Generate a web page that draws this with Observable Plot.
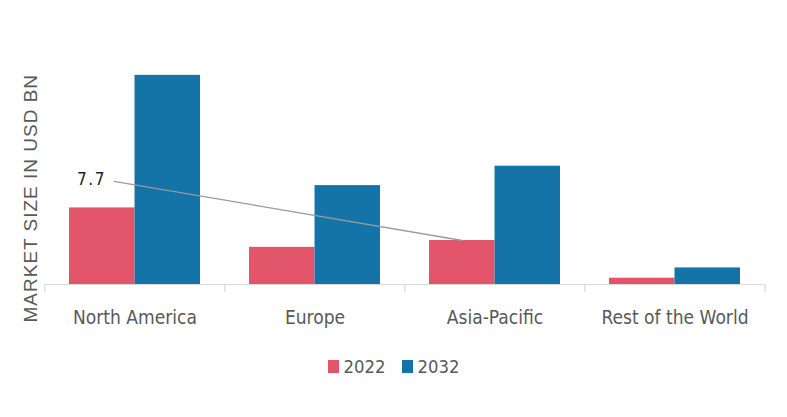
<!DOCTYPE html>
<html>
<head>
<meta charset="utf-8">
<script src="https://cdn.jsdelivr.net/npm/d3@7"></script>
<script src="https://cdn.jsdelivr.net/npm/@observablehq/plot@0.6"></script>
<style>
  html, body { margin: 0; padding: 0; background: #fff; }
  #chart { width: 787px; }
  .legend { display: flex; justify-content: center; align-items: center; margin-top: 16px; color: #595959; }
  .legend .item { display: flex; align-items: center; margin: 0 8px; }
  .legend .sw { width: 11px; height: 13px; margin-right: 5px; }
</style>
</head>
<body>
<div id="chart"></div>
<script>
const regions = ["North America", "Europe", "Asia-Pacific", "Rest of the World"];
const years = ["2022", "2032"];
const values2022 = [13.4, 6.5, 7.7, 1.1];
const values2032 = [36.6, 17.3, 20.7, 2.9];
const colors = ["#e2546a", "#1473a7"];
const yLabel = "MARKET SIZE IN USD BN";
const annotation = {text: "7.7", labelRegion: "North America", labelValue: 18.4, targetRegion: "Asia-Pacific", targetValue: 7.7};

const data2022 = regions.map((r, i) => ({region: r, year: years[0], value: values2022[i]}));
const data2032 = regions.map((r, i) => ({region: r, year: years[1], value: values2032[i]}));

// pick a narrow installed font and size it so that "North America" is ~124px wide
const ctx = document.createElement("canvas").getContext("2d");
function width(str, font) { ctx.font = font; return ctx.measureText(str).width; }
function installed(f) {
  const s = "North America 2022 MmWw";
  return width(s, `40px '${f}', monospace`) !== width(s, "40px monospace") ||
         width(s, `40px '${f}', serif`) !== width(s, "40px serif");
}
const candidates = ["Liberation Sans Narrow", "DejaVu Sans Condensed", "Liberation Sans", "Roboto"];
const fam = candidates.find(installed) || "sans-serif";
const font = `'${fam}', sans-serif`;
const catSize = Math.min(23.5, 23.5 * 124 / width("North America", `23.5px ${font}`));
const legSize = Math.min(23.5, 23.5 * 42 / width("2022", `23.5px ${font}`));
const labFam = installed("Liberation Sans") ? "'Liberation Sans', sans-serif" : font;
const labSize = 19 * 228 / width(yLabel, `19px ${labFam}`);

const W = 787, mL = 44, mR = 22;
const step = (W - mL - mR) / regions.length;
const bw = step * 0.727;
const half = bw / 2;

const chart = Plot.plot({
  width: W,
  height: 340,
  marginLeft: mL,
  marginRight: mR,
  marginTop: 55.4,
  marginBottom: 56,
  style: {fontFamily: font, fontSize: catSize + "px", color: "#595959", background: "#fff", overflow: "visible"},
  x: {domain: regions, paddingInner: 0.273, paddingOuter: 0.1365, label: null},
  y: {domain: [0, 40], axis: null},
  color: {domain: years, range: colors},
  marks: [
    Plot.ruleY([0], {stroke: "#d9d9d9", strokeWidth: 1.2}),
    Plot.ruleX(regions, {x: d => d, y1: 0, y2: 0, insetTop: 8, dx: -step / 2, stroke: "#d9d9d9", strokeWidth: 1.2}),
    Plot.ruleX(regions.slice(-1), {x: d => d, y1: 0, y2: 0, insetTop: 8, dx: step / 2, stroke: "#d9d9d9", strokeWidth: 1.2}),
    Plot.barY(data2022, {x: "region", y: "value", fill: "year", insetRight: half}),
    Plot.barY(data2032, {x: "region", y: "value", fill: "year", insetLeft: half}),
    Plot.axisX({tickSize: 0, tickPadding: 26, fontSize: catSize, fill: "#595959"}),
    Plot.arrow([annotation], {
      x1: "labelRegion", y1: "labelValue", x2: "targetRegion", y2: "targetValue",
      dx: -half / 2, bend: 0, headLength: 0, insetStart: 12,
      stroke: "#9a9a9a", strokeWidth: 1.3
    }),
    Plot.text([annotation], {
      x: "labelRegion", y: "labelValue", text: "text", dx: -29, dy: 0,
      textAnchor: "end", fill: "#222", fontSize: catSize * 0.9
    }),
    Plot.text([yLabel], {
      text: d => d, frameAnchor: "left", textAnchor: "middle", rotate: -90, dx: -14, dy: 28,
      fontFamily: labFam, fontSize: labSize, fill: "#595959"
    })
  ]
});

d3.select(chart).selectAll("text").filter(function () { return d3.select(this).text() === yLabel; })
  .style("letter-spacing", "1px");
d3.select(chart).selectAll("text").filter(function () { return d3.select(this).text() === annotation.text; })
  .style("letter-spacing", "1.5px");

document.getElementById("chart").appendChild(chart);

const color = chart.scale("color");
const legend = d3.select("#chart").append("div").attr("class", "legend")
  .style("font-family", font).style("font-size", legSize + "px");
years.forEach(y => {
  const item = legend.append("div").attr("class", "item");
  item.append("div").attr("class", "sw").style("background", color.apply(y));
  item.append("span").text(y);
});
</script>
</body>
</html>
